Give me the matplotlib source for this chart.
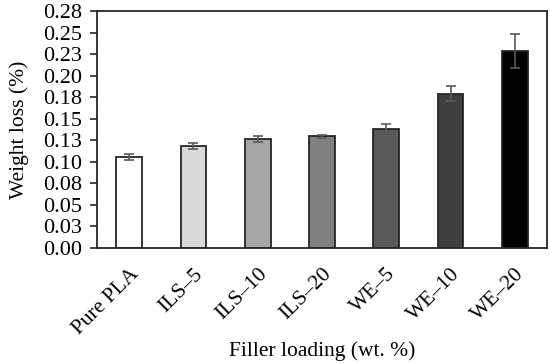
import matplotlib
matplotlib.use("Agg")
import matplotlib.pyplot as plt

plt.rcParams["font.family"] = ["Liberation Serif", "DejaVu Serif"]

categories = ["Pure PLA", "ILS\u20135", "ILS\u201310", "ILS\u201320", "WE\u20135", "WE\u201310", "WE\u201320"]
weight_loss = [0.1055, 0.118, 0.127, 0.1295, 0.138, 0.179, 0.2285]
errors = [0.003, 0.0037, 0.0035, 0.0015, 0.006, 0.009, 0.020]
colors = ["#ffffff", "#d9d9d9", "#a6a6a6", "#808080", "#595959", "#3f3f3f", "#000000"]
yticks = [0, 0.025, 0.05, 0.075, 0.1, 0.125, 0.15, 0.175, 0.2, 0.225, 0.25, 0.275]
ytick_labels = ["0.00", "0.03", "0.05", "0.08", "0.10", "0.13", "0.15", "0.18", "0.20", "0.23", "0.25", "0.28"]

fig = plt.figure(figsize=(5.5, 3.64), dpi=100)
ax = fig.add_axes([97/550, 1 - 248/364, 450/550, 237/364])

x = range(len(categories))
ax.bar(x, weight_loss, width=0.4, color=colors, edgecolor="#262626", linewidth=1.3,
       yerr=errors, error_kw=dict(ecolor="#595959", elinewidth=1.2, capsize=3.5, capthick=1.2))

ax.set_xlim(-0.5, 6.5)
ax.set_ylim(0, 0.275)
ax.set_yticks(yticks)
ax.set_yticklabels(ytick_labels, fontsize=16)
ax.set_xticks(list(x))
ax.set_xticklabels(categories, rotation=45, ha="right", va="top", rotation_mode="anchor", fontsize=15.5)
ax.tick_params(axis="x", length=0, pad=12)
ax.tick_params(axis="y", length=5, width=1.2, direction="out", color="#262626", pad=6)
for s in ax.spines.values():
    s.set_linewidth(1.3)
    s.set_color("#262626")

ax.set_ylabel("Weight loss (%)", fontsize=15.5, labelpad=10)
ax.set_xlabel("Filler loading (wt. %)", fontsize=15.5, labelpad=2)

fig.savefig("out.png", dpi=100)
